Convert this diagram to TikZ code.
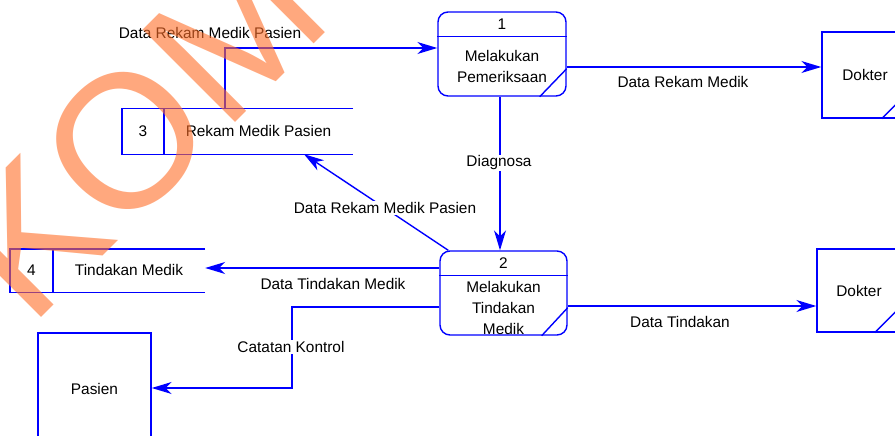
\documentclass[tikz,border=0pt]{standalone}
\usepackage{fontspec}
\setmainfont{Liberation Sans}
\usetikzlibrary{arrows.meta,calc}
\definecolor{dfdblue}{RGB}{0,0,255}
\definecolor{stamp}{RGB}{255,110,40}
\tikzset{
  line/.style={draw=dfdblue, line width=1.4pt},
  flow/.style={line, -{Stealth[length=20pt,width=12pt,inset=6pt]}},
  lbl/.style={font=\fontsize{15.4}{21}\selectfont, inner sep=1pt, align=center},
  onlbl/.style={lbl, fill=white},
  proc/.style={line, rounded corners=10pt, inner sep=0pt},
  entity/.style={line, inner sep=0pt, font=\fontsize{15.4}{21}\selectfont},
  storebox/.style={inner sep=0pt},
  wm/.style={text=stamp, text opacity=0.6, inner sep=0pt, rotate=45,
             font=\fontsize{190}{190}\selectfont},
}
\begin{document}
\begin{tikzpicture}[x=1pt, y=-1pt]
\useasboundingbox (0,0) rectangle (895,436);

% ---- processes ----
\node[proc, minimum width=128pt, minimum height=84pt] (p1) at (502,54) {};
\draw[line] ($(p1.north west)+(0,25)$) -- ($(p1.north east)+(0,25)$);
\draw[line] ($(p1.south east)+(-27,0)$) -- ($(p1.south east)+(0,-28)$);
\node[lbl] (p1id) at (502,24.5) {1};
\node[lbl] (p1name) at (502,66.5) {Melakukan\\Pemeriksaan};

\node[proc, minimum width=127pt, minimum height=84pt] (p2) at (503.5,293) {};
\draw[line] ($(p2.north west)+(0,25)$) -- ($(p2.north east)+(0,25)$);
\draw[line] ($(p2.south east)+(-26,0)$) -- ($(p2.south east)+(0,-28)$);
\node[lbl] (p2id) at (503.5,263.5) {2};
\node[lbl] (p2name) at (503.5,307.5) {Melakukan\\Tindakan\\Medik};

% ---- data stores ----
\node[storebox, minimum width=231pt, minimum height=45pt] (s3) at (237.5,131.5) {};
\draw[line] (s3.north east) -- (s3.north west) -- (s3.south west) -- (s3.south east);
\draw[line] ($(s3.north west)+(42,0)$) -- ($(s3.south west)+(42,0)$);
\node[lbl] (s3id) at (143,131) {3};
\node[lbl] (s3name) at (258.5,131) {Rekam Medik Pasien};

\node[storebox, minimum width=195pt, minimum height=43pt] (s4) at (107.5,270.5) {};
\draw[line] (s4.north east) -- (s4.north west) -- (s4.south west) -- (s4.south east);
\draw[line] ($(s4.north west)+(43,0)$) -- ($(s4.south west)+(43,0)$);
\node[lbl] (s4id) at (31.5,270) {4};
\node[lbl] (s4name) at (129,270) {Tindakan Medik};

% ---- external entities ----
\node[entity, minimum width=86pt, minimum height=86pt] (d1) at (865,75) {Dokter};
\draw[line] ($(d1.south east)+(-27,0)$) -- ($(d1.south east)+(0,-27)$);
\node[entity, minimum width=84pt, minimum height=83pt] (d2) at (859,290.5) {Dokter};
\draw[line] ($(d2.south east)+(-27,0)$) -- ($(d2.south east)+(0,-27)$);
\node[entity, minimum width=113pt, minimum height=112pt] (pa) at (94.5,389) {Pasien};

% ---- data flows ----
\draw[flow] (s3.north -| 225,0) |- (p1.west |- 0,48);
\node[lbl] (f1) at (210,33) {Data Rekam Medik Pasien};

\draw[flow] (p1.east |- 0,67) -- (d1.west |- 0,67);
\node[lbl] (f2) at (683,82) {Data Rekam Medik};

\draw[flow] (p1.south -| 500,0) -- (p2.north -| 500,0);
\node[onlbl] (f3) at (499,163) {Diagnosa};

\draw[flow] ($(p2.north west)+(9,0)$) -- (s3.south -| 304,0);
\node[onlbl] (f4) at (385,208) {Data Rekam Medik Pasien};

\draw[flow] (p2.west |- 0,268) -- (s4.east |- 0,268);
\node[lbl] (f5) at (333,284) {Data Tindakan Medik};

\draw[flow] (p2.east |- 0,306) -- (d2.west |- 0,306);
\node[lbl] (f6) at (680,322) {Data Tindakan};

\draw[flow] (p2.west |- 0,307) -| (292,388) -- (pa.east |- 0,388);
\node[onlbl] (f7) at (291,347) {Catatan Kontrol};

% ---- watermark ----
\begin{scope}
  \clip (0,0) rectangle (895,436);
  \node[wm] (wmK) at (29,237) {K};
  \node[wm] (wmO) at (126,140.5) {O};
  \node[wm] (wmM) at (234.2,31.8) {M};
\end{scope}
\end{tikzpicture}
\end{document}
